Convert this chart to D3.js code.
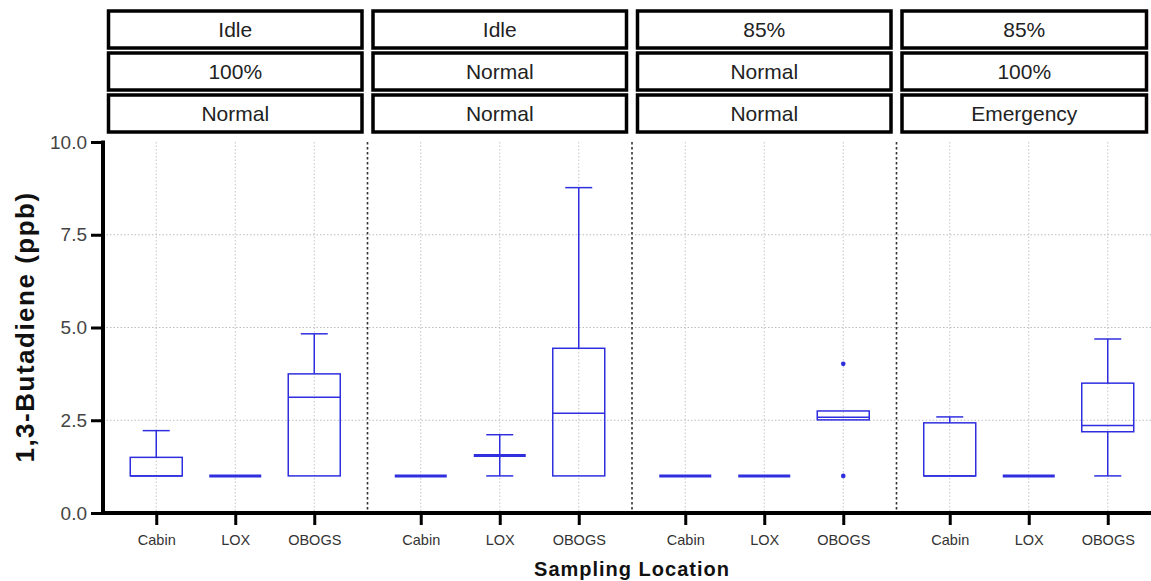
<!DOCTYPE html>
<html>
<head>
<meta charset="utf-8">
<script src="https://cdn.jsdelivr.net/npm/d3@7"></script>
<style>
  body { margin: 0; background: #fff; }
  svg { display: block; font-family: "Liberation Sans", Arial, sans-serif; }
</style>
</head>
<body>
<div id="chart"></div>
<script>
// facet strip labels, one entry per panel
const panels = ["p1", "p2", "p3", "p4"];
const stripRow1 = ["Idle", "Idle", "85%", "85%"];
const stripRow2 = ["100%", "Normal", "Normal", "100%"];
const stripRow3 = ["Normal", "Normal", "Normal", "Emergency"];
const locations = ["Cabin", "LOX", "OBOGS"];
const yTicks = [0, 2.5, 5, 7.5, 10];

// box stats, panel-major order (Cabin, LOX, OBOGS per panel)
const minVals = [1, 1, 1,    1, 1, 1,       1, 1, 2.51,   1, 1, 1];
const q1Vals  = [1, 1, 1,    1, 1.55, 1,    1, 1, 2.51,   1, 1, 2.19];
const medVals = [1, 1, 3.12, 1, 1.55, 2.69, 1, 1, 2.58,   1, 1, 2.36];
const q3Vals  = [1.5, 1, 3.75, 1, 1.55, 4.44, 1, 1, 2.75, 2.43, 1, 3.50];
const maxVals = [2.22, 1, 4.83, 1, 2.11, 8.77, 1, 1, 2.75, 2.59, 1, 4.69];

// outlier points: [panel, location, value]
const outliers = [["p3", "OBOGS", 4.02], ["p3", "OBOGS", 1.0]];

const W = 1151, H = 581;
const margin = { left: 103, top: 142, bottom: 513 };
const panelW = 264.5;
const boxW = 52, capW = 27;
const blue = "#2f2fe0";

const svg = d3.select("#chart").append("svg").attr("width", W).attr("height", H);

const xPanel = d3.scaleBand().domain(panels)
  .range([margin.left, margin.left + panelW * panels.length]).padding(0);
const xLoc = d3.scalePoint().domain(locations).range([0, panelW]).padding(0.674);
const y = d3.scaleLinear().domain([0, 10]).range([margin.bottom, margin.top]);

const plotRight = W;

// horizontal dotted grid
svg.append("g").selectAll("line").data([2.5, 5, 7.5]).join("line")
  .attr("x1", margin.left).attr("x2", plotRight)
  .attr("y1", d => y(d)).attr("y2", d => y(d))
  .attr("stroke", "#bdbdbd").attr("stroke-width", 1).attr("stroke-dasharray", "1.5,2");

// vertical dotted grid at each category
const cats = [];
panels.forEach((p, i) => locations.forEach((l, j) => cats.push({ p, l, i: i * 3 + j })));
svg.append("g").selectAll("line").data(cats).join("line")
  .attr("x1", d => xPanel(d.p) + xLoc(d.l)).attr("x2", d => xPanel(d.p) + xLoc(d.l))
  .attr("y1", margin.top).attr("y2", margin.bottom)
  .attr("stroke", "#c4c4c4").attr("stroke-width", 1).attr("stroke-dasharray", "1.5,2");

// panel separators
svg.append("g").selectAll("line").data(panels.slice(1)).join("line")
  .attr("x1", d => xPanel(d)).attr("x2", d => xPanel(d))
  .attr("y1", margin.top).attr("y2", margin.bottom)
  .attr("stroke", "#333").attr("stroke-width", 1.6).attr("stroke-dasharray", "2.5,2.5");

// strips
const stripTops = [11, 53, 95];
const stripRows = [stripRow1, stripRow2, stripRow3];
const strips = svg.append("g");
stripRows.forEach((row, r) => {
  panels.forEach((p, i) => {
    const x0 = xPanel(p) + 5.5;
    const x1 = Math.min(xPanel(p) + panelW - 5.5, W - 4.5);
    strips.append("rect")
      .attr("x", x0).attr("y", stripTops[r])
      .attr("width", x1 - x0).attr("height", 37)
      .attr("fill", "#fff").attr("stroke", "#000").attr("stroke-width", 3.5);
    strips.append("text")
      .attr("x", (x0 + x1) / 2).attr("y", stripTops[r] + 18.5)
      .attr("text-anchor", "middle").attr("dominant-baseline", "central")
      .attr("font-size", 21).attr("fill", "#222")
      .text(row[i]);
  });
});

// boxes
const boxes = svg.append("g");
cats.forEach(c => {
  const cx = xPanel(c.p) + xLoc(c.l);
  const lo = minVals[c.i], q1 = q1Vals[c.i], md = medVals[c.i], q3 = q3Vals[c.i], hi = maxVals[c.i];
  const g = boxes.append("g").attr("stroke", blue).attr("fill", "none");
  const flat = q3 - q1 < 0.01;
  // whiskers
  if (hi > q3) {
    g.append("line").attr("x1", cx).attr("x2", cx).attr("y1", y(q3)).attr("y2", y(hi)).attr("stroke-width", 1.5);
    g.append("line").attr("x1", cx - capW / 2).attr("x2", cx + capW / 2).attr("y1", y(hi)).attr("y2", y(hi)).attr("stroke-width", 1.5);
  }
  if (lo < q1) {
    g.append("line").attr("x1", cx).attr("x2", cx).attr("y1", y(q1)).attr("y2", y(lo)).attr("stroke-width", 1.5);
    g.append("line").attr("x1", cx - capW / 2).attr("x2", cx + capW / 2).attr("y1", y(lo)).attr("y2", y(lo)).attr("stroke-width", 1.5);
  }
  if (flat) {
    g.append("line").attr("x1", cx - boxW / 2).attr("x2", cx + boxW / 2)
      .attr("y1", y(md)).attr("y2", y(md)).attr("stroke-width", 3);
  } else {
    g.append("rect").attr("x", cx - boxW / 2).attr("y", y(q3))
      .attr("width", boxW).attr("height", y(q1) - y(q3)).attr("stroke-width", 1.5);
    g.append("line").attr("x1", cx - boxW / 2).attr("x2", cx + boxW / 2)
      .attr("y1", y(md)).attr("y2", y(md)).attr("stroke-width", 1.5);
  }
});

// outliers
boxes.selectAll("circle").data(outliers).join("circle")
  .attr("cx", d => xPanel(d[0]) + xLoc(d[1]))
  .attr("cy", d => y(d[2]))
  .attr("r", 2.3).attr("fill", blue);

// y axis
const yAxis = svg.append("g").attr("transform", `translate(${margin.left},0)`)
  .call(d3.axisLeft(y).tickValues(yTicks).tickFormat(d3.format(".1f")).tickSize(12).tickPadding(4));
yAxis.select(".domain").attr("stroke", "#000").attr("stroke-width", 4)
  .attr("d", `M0,${margin.top - 1.5}V${margin.bottom + 2}`);
yAxis.selectAll(".tick line").attr("stroke", "#000").attr("stroke-width", 3);
yAxis.selectAll(".tick text").attr("font-size", 19).attr("fill", "#444")
  .attr("font-family", "Liberation Sans, Arial, sans-serif");

// x axis line
svg.append("line")
  .attr("x1", margin.left - 2).attr("x2", W)
  .attr("y1", margin.bottom).attr("y2", margin.bottom)
  .attr("stroke", "#000").attr("stroke-width", 4);

// x axes per panel
panels.forEach(p => {
  const ax = svg.append("g").attr("transform", `translate(${xPanel(p)},${margin.bottom})`)
    .call(d3.axisBottom(xLoc).tickSize(12).tickPadding(10));
  ax.select(".domain").remove();
  ax.selectAll(".tick line").attr("stroke", "#000").attr("stroke-width", 3);
  ax.selectAll(".tick text").attr("font-size", 14.5).attr("fill", "#333")
    .attr("font-family", "Liberation Sans, Arial, sans-serif");
});

// axis titles
svg.append("text")
  .attr("x", 632).attr("y", 576)
  .attr("text-anchor", "middle")
  .attr("font-size", 20).attr("font-weight", "bold").attr("letter-spacing", 1)
  .attr("fill", "#111")
  .text("Sampling Location");

svg.append("text")
  .attr("transform", "translate(34,327) rotate(-90)")
  .attr("text-anchor", "middle")
  .attr("font-size", 26).attr("font-weight", "bold").attr("letter-spacing", 1.5)
  .attr("fill", "#111")
  .text("1,3-Butadiene (ppb)");
</script>
</body>
</html>
